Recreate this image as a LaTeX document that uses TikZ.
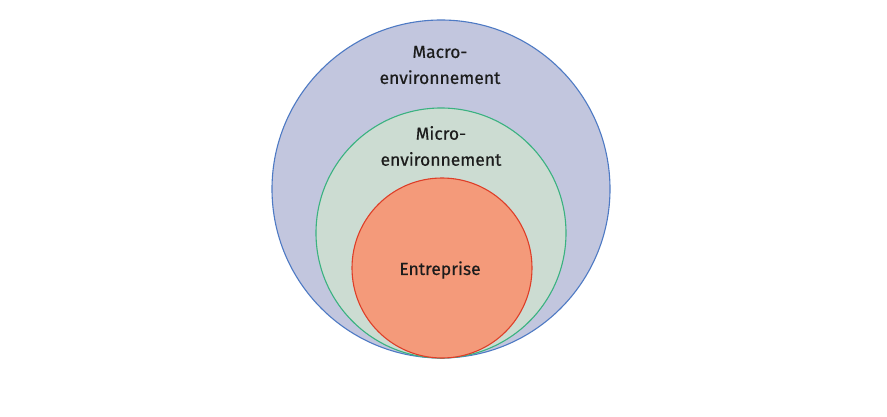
\documentclass[tikz,border=0pt]{standalone}
\usepackage{fontspec}
\setmainfont{Fira Sans}[FakeBold=0.5]
\definecolor{macrofill}{RGB}{194,198,222}
\definecolor{macroline}{RGB}{78,122,196}
\definecolor{microfill}{RGB}{204,220,210}
\definecolor{microline}{RGB}{58,178,128}
\definecolor{entfill}{RGB}{244,154,122}
\definecolor{entline}{RGB}{222,62,40}
\definecolor{txt}{RGB}{28,28,28}
\tikzset{
  ring/.style={circle, line width=1.1pt, inner sep=0pt},
  lbl/.style={align=center, text=txt, font=\fontsize{17.5}{26}\selectfont, inner sep=0pt}
}
\begin{document}
\begin{tikzpicture}[x=1pt,y=-1pt]
\useasboundingbox (0,0) rectangle (887,417);
\fill[white] (0,0) rectangle (887,417);
\node[ring, draw=macroline, fill=macrofill, minimum size=338pt] (macro) at (441,189) {};
\node[ring, draw=microline, fill=microfill, minimum size=250pt] (micro) at (441,233) {};
\node[ring, draw=entline, fill=entfill, minimum size=180pt] (ent) at (442,268) {};
\node[lbl] (macrotxt) at (440,65) {Macro-\\environnement};
\node[lbl] (microtxt) at (441,146) {Micro-\\environnement};
\node[lbl] (enttxt) at (440,270) {Entreprise};
\end{tikzpicture}
\end{document}
